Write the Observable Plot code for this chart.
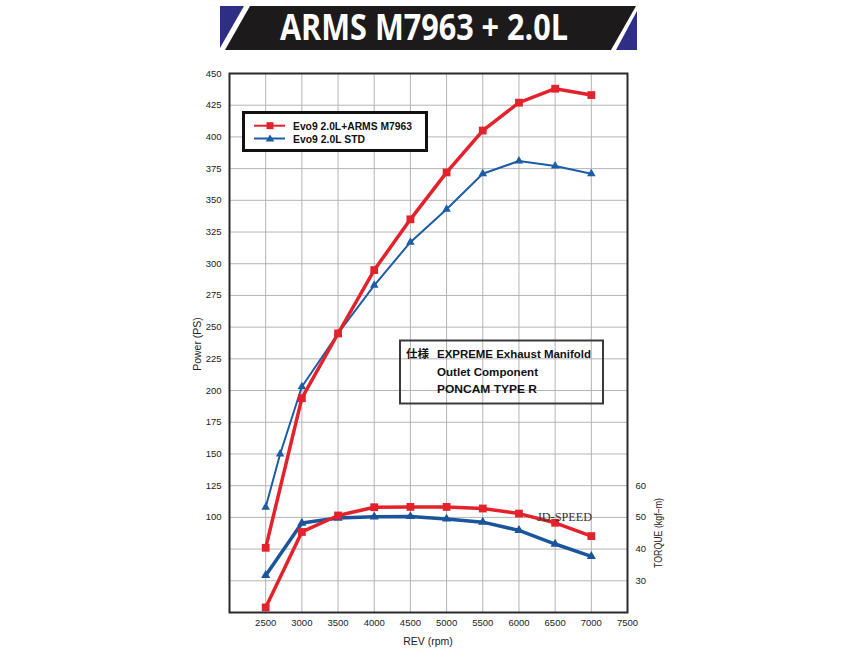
<!DOCTYPE html>
<html>
<head>
<meta charset="utf-8">
<script src="https://cdn.jsdelivr.net/npm/d3@7"></script>
<script src="https://cdn.jsdelivr.net/npm/@observablehq/plot@0.6"></script>
<style>
  html, body { margin: 0; padding: 0; background: #fff; }
  #wrap { position: relative; width: 852px; height: 650px; }
  #overlay { position: absolute; left: 0; top: 0; pointer-events: none; }
</style>
</head>
<body>
<div id="wrap"></div>
<script>
// ---- data ----
const title = "ARMS M7963 + 2.0L";
const seriesNames = ["Evo9 2.0L+ARMS M7963", "Evo9 2.0L STD"];
const specLines = ["EXPREME Exhaust Manifold", "Outlet Component", "PONCAM TYPE R"];
const specTag = "仕様";
const watermark = "JD-SPEED";

const armsRpm = [2500, 3000, 3500, 4000, 4500, 5000, 5500, 6000, 6500, 7000];
const armsPower = [76, 194, 245, 295, 335, 372, 405, 427, 438, 433];
const armsTorque = [21.6, 45.4, 50.6, 53.2, 53.3, 53.3, 52.8, 51.2, 48.3, 44.1];

const stdPowerRpm = [2500, 2700, 3000, 3500, 4000, 4500, 5000, 5500, 6000, 6500, 7000];
const stdPower = [108, 150, 203, 245, 283, 317, 343, 371, 381, 377, 371];
const stdTorqueRpm = [2500, 3000, 3500, 4000, 4500, 5000, 5500, 6000, 6500, 7000];
const stdTorque = [31.7, 48.2, 49.8, 50.2, 50.3, 49.5, 48.5, 45.9, 41.6, 37.7];

const xTicks = [2500, 3000, 3500, 4000, 4500, 5000, 5500, 6000, 6500, 7000, 7500];
const xGrid = [2500, 3000, 3500, 4000, 4500, 5000, 5500, 6000, 6500, 7000];
const powerTicks = [100, 125, 150, 175, 200, 225, 250, 275, 300, 325, 350, 375, 400, 425, 450];
const powerGrid = [50, 75, 100, 125, 150, 175, 200, 225, 250, 275, 300, 325, 350, 375, 400, 425];
const torqueTicks = [30, 40, 50, 60];

// torque (kgf-m) shares the power axis: 50 kgf-m <-> 100 PS, 10 kgf-m <-> 25 PS
const tq2ps = t => 100 + (t - 50) * 2.5;
const ps2tq = p => 50 + (p - 100) / 2.5;

const RED = "#e3222b";
const BLUE = "#1d5ca6";
const BLUE_T = "#1a559c";

const armsP = armsRpm.map((r, i) => ({rpm: r, v: armsPower[i]}));
const armsT = armsRpm.map((r, i) => ({rpm: r, v: tq2ps(armsTorque[i])}));
const stdP = stdPowerRpm.map((r, i) => ({rpm: r, v: stdPower[i]}));
const stdT = stdTorqueRpm.map((r, i) => ({rpm: r, v: tq2ps(stdTorque[i])}));

const chart = Plot.plot({
  width: 852,
  height: 650,
  marginTop: 73,
  marginBottom: 38,
  marginLeft: 229,
  marginRight: 225,
  style: {fontFamily: "'Liberation Sans', Arial, sans-serif", fontSize: "9.5px", color: "#222", background: "#fff"},
  x: {domain: [2000, 7500]},
  y: {domain: [25, 450]},
  marks: [
    Plot.gridX(xGrid, {stroke: "#b4b4b4", strokeOpacity: 1, strokeWidth: 1}),
    Plot.gridY(powerGrid, {stroke: "#b4b4b4", strokeOpacity: 1, strokeWidth: 1}),
    Plot.axisX(xTicks, {anchor: "bottom", tickSize: 0, tickPadding: 7, label: null, tickFormat: d => String(d)}),
    Plot.axisY(powerTicks, {anchor: "left", tickSize: 0, tickPadding: 8, label: null, tickFormat: d => String(d)}),
    Plot.axisY(torqueTicks.map(tq2ps), {anchor: "right", tickSize: 0, tickPadding: 8, label: null, tickFormat: d => String(Math.round(ps2tq(d)))}),
    // torque curves
    Plot.line(stdT, {x: "rpm", y: "v", stroke: BLUE_T, strokeWidth: 3.5}),
    Plot.dot(stdT, {x: "rpm", y: "v", symbol: "triangle", r: 3.4, fill: BLUE_T}),
    Plot.line(armsT, {x: "rpm", y: "v", stroke: RED, strokeWidth: 3.5}),
    Plot.dot(armsT, {x: "rpm", y: "v", symbol: "square", r: 4.4, fill: RED}),
    // power curves
    Plot.line(stdP, {x: "rpm", y: "v", stroke: BLUE, strokeWidth: 2}),
    Plot.dot(stdP, {x: "rpm", y: "v", symbol: "triangle", r: 3.2, fill: BLUE}),
    Plot.line(armsP, {x: "rpm", y: "v", stroke: RED, strokeWidth: 3.5}),
    Plot.dot(armsP, {x: "rpm", y: "v", symbol: "square", r: 4.4, fill: RED}),
    Plot.frame({stroke: "#2a2a2a", strokeWidth: 2})
  ]
});
document.getElementById("wrap").appendChild(chart);

// ---- overlay: banner, legend, annotation, axis titles ----
const NS = "http://www.w3.org/2000/svg";
const ov = document.createElementNS(NS, "svg");
ov.setAttribute("id", "overlay");
ov.setAttribute("width", 852);
ov.setAttribute("height", 650);
document.getElementById("wrap").appendChild(ov);
function el(tag, attrs, text) {
  const e = document.createElementNS(NS, tag);
  for (const k in attrs) e.setAttribute(k, attrs[k]);
  if (text != null) e.textContent = text;
  ov.appendChild(e);
  return e;
}
// banner
el("polygon", {points: "220,6 244,6 220,48", fill: "#2e2e84"});
el("polygon", {points: "250,6 636,6 611,50 225,50", fill: "#1c1a1a"});
el("polygon", {points: "637,11 637,50 616,50", fill: "#2e2e84"});
el("text", {x: 424, y: 40, "text-anchor": "middle", fill: "#fff", "font-family": "'Open Sans', 'Liberation Sans', sans-serif",
  "font-weight": 700, "font-size": 35, textLength: 288, lengthAdjust: "spacingAndGlyphs"}, title);

// legend
el("rect", {x: 243.5, y: 112.5, width: 183, height: 38, fill: "#fff", stroke: "#111", "stroke-width": 3});
el("line", {x1: 254, x2: 285, y1: 125.7, y2: 125.7, stroke: RED, "stroke-width": 2});
el("rect", {x: 266.5, y: 122.2, width: 7, height: 7, fill: RED});
el("line", {x1: 254, x2: 285, y1: 138.5, y2: 138.5, stroke: BLUE, "stroke-width": 2});
el("polygon", {points: "270,134.5 274.3,141.5 265.7,141.5", fill: BLUE});
el("text", {x: 293, y: 129.5, "font-family": "'Liberation Sans', Arial, sans-serif", "font-weight": 700, "font-size": 10.5,
  fill: "#111", textLength: 119, lengthAdjust: "spacingAndGlyphs"}, seriesNames[0]);
el("text", {x: 293, y: 142.8, "font-family": "'Liberation Sans', Arial, sans-serif", "font-weight": 700, "font-size": 10.5,
  fill: "#111", textLength: 72, lengthAdjust: "spacingAndGlyphs"}, seriesNames[1]);

// annotation
el("rect", {x: 400, y: 340.5, width: 203, height: 63, fill: "none", stroke: "#3a3a3a", "stroke-width": 2});
el("text", {x: 406, y: 358, "font-family": "'Noto Sans CJK JP', sans-serif", "font-weight": 700, "font-size": 11.5, fill: "#111"}, specTag);
const specW = [154, 101, 100];
specLines.forEach((s, i) => {
  el("text", {x: 437, y: 358 + i * 17.5, "font-family": "'Liberation Sans', Arial, sans-serif", "font-weight": 700, "font-size": 11.5,
    fill: "#111", textLength: specW[i], lengthAdjust: "spacingAndGlyphs"}, s);
});

// watermark
el("text", {x: 537, y: 521, "font-family": "'Liberation Serif', 'Times New Roman', serif", "font-size": 12.5, fill: "#333",
  textLength: 55, lengthAdjust: "spacingAndGlyphs"}, watermark);

// axis titles
el("text", {transform: "translate(197,344) rotate(-90)", "text-anchor": "middle", "dominant-baseline": "central",
  "font-family": "'Liberation Sans', Arial, sans-serif", "font-size": 10.5, fill: "#222"}, "Power (PS)");
el("text", {transform: "translate(658,533) rotate(-90)", "text-anchor": "middle", "dominant-baseline": "central",
  "font-family": "'Liberation Sans', Arial, sans-serif", "font-size": 10, fill: "#222", textLength: 70, lengthAdjust: "spacingAndGlyphs"}, "TORQUE (kgf−m)");
el("text", {x: 428, y: 641, "text-anchor": "middle", "dominant-baseline": "central",
  "font-family": "'Liberation Sans', Arial, sans-serif", "font-size": 10.5, fill: "#222"}, "REV (rpm)");
</script>
</body>
</html>
